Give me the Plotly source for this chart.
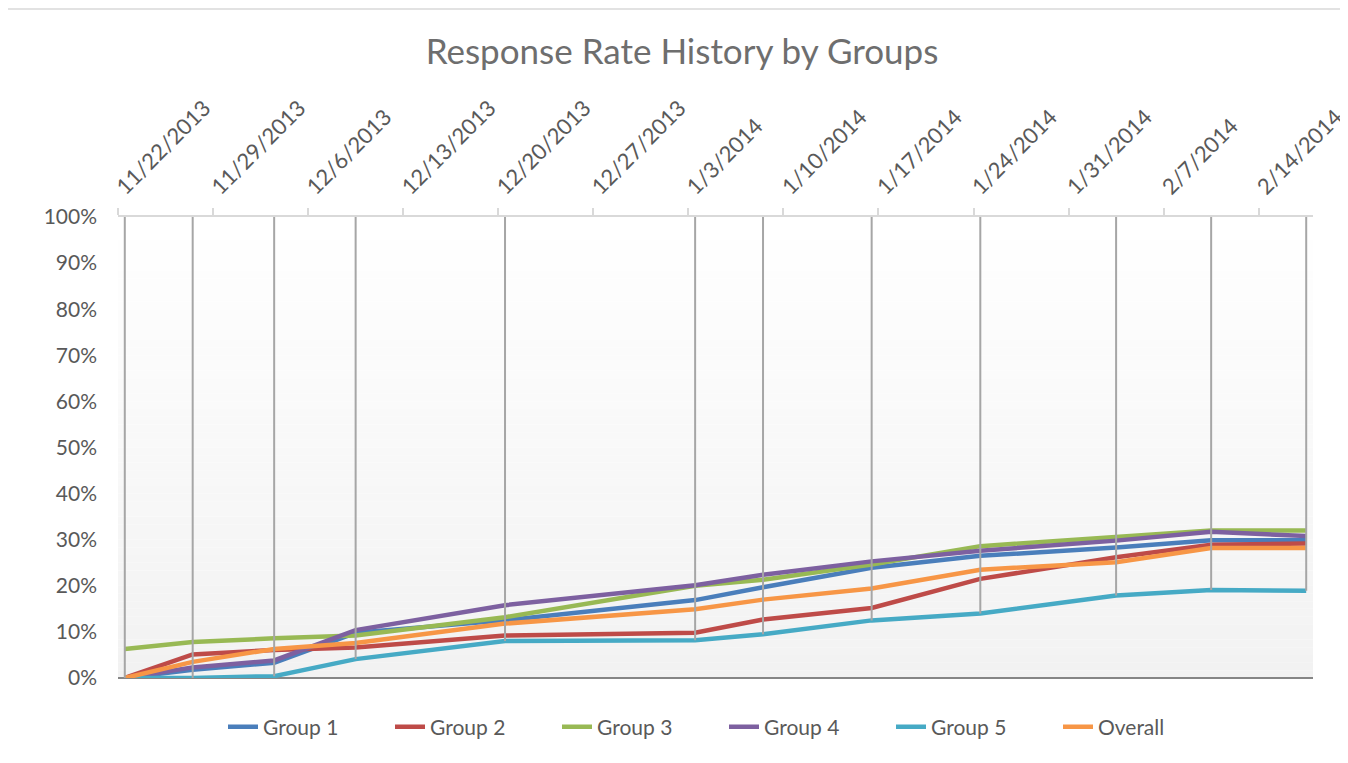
import pandas as pd
import plotly.graph_objects as go

# ---- data ----
dates = ["2013-11-22", "2013-11-27", "2013-12-03", "2013-12-09", "2013-12-20", "2014-01-03",
         "2014-01-08", "2014-01-16", "2014-01-24", "2014-02-03", "2014-02-10", "2014-02-17"]
group1 = [0.0, 1.8, 3.3, 9.8, 12.5, 16.9, 19.7, 23.9, 26.5, 28.3, 29.9, 29.9]
group2 = [0.0, 5.1, 6.1, 6.6, 9.2, 9.8, 12.7, 15.2, 21.5, 26.2, 28.9, 29.2]
group3 = [6.3, 7.8, 8.6, 9.2, 13.2, 20.0, 21.3, 24.6, 28.6, 30.6, 32.0, 32.0]
group4 = [0.0, 2.3, 3.8, 10.4, 15.8, 20.1, 22.4, 25.3, 27.6, 29.8, 31.7, 30.8]
group5 = [0.0, 0.0, 0.4, 4.1, 8.0, 8.2, 9.5, 12.5, 14.0, 17.9, 19.1, 18.9]
overall = [0.0, 3.5, 6.3, 7.6, 11.8, 14.9, 17.0, 19.4, 23.5, 25.1, 28.2, 28.2]

series_names = ["Group 1", "Group 2", "Group 3", "Group 4", "Group 5", "Overall"]
series_values = [group1, group2, group3, group4, group5, overall]
series_colors = ["#4A7EBB", "#BE4B48", "#98B954", "#7D60A0", "#46AAC5", "#F79646"]

tick_labels = ["11/22/2013", "11/29/2013", "12/6/2013", "12/13/2013", "12/20/2013", "12/27/2013",
               "1/3/2014", "1/10/2014", "1/17/2014", "1/24/2014", "1/31/2014", "2/7/2014", "2/14/2014"]

title_text = "Response Rate History by Groups"

# ---- build ----
x_dates = pd.to_datetime(dates)
half_day = pd.Timedelta(hours=12)
tick_pos = pd.to_datetime(tick_labels, format="%m/%d/%Y") - half_day
x_range = [x_dates[0] - half_day, x_dates[-1] + half_day]

FONT = "Lato, Carlito, Calibri, sans-serif"
TXT = "#595959"

fig = go.Figure()

for name, vals, col in zip(series_names, series_values, series_colors):
    fig.add_trace(go.Scatter(
        x=x_dates, y=[v / 100 for v in vals], name=name, mode="lines",
        line=dict(color=col, width=4.5), hoverinfo="x+y+name"))

# drop lines from category axis (top) down to lowest series value
dx, dy = [], []
for i, d in enumerate(x_dates):
    lo = min(s[i] for s in series_values) / 100
    dx += [d, d, None]
    dy += [lo, 1.0, None]
fig.add_trace(go.Scatter(x=dx, y=dy, mode="lines", showlegend=False, hoverinfo="skip",
                         line=dict(color="#A6A6A6", width=2)))

# page body margin (8px) compensation: keep the figure inside the window
OFF = 8
W, H = 1348 - OFF, 763 - OFF
L, T = 118 - OFF, 217 - OFF
R = W - (1313 - OFF)
B = H - (678 - OFF)
pw, ph = W - L - R, H - T - B

def px_x(p):
    return (p - OFF - L) / pw

def px_y(p):
    return (H - B - (p - OFF)) / ph

# gradient plot background
shapes = []
n = 60
for k in range(n):
    t = k / (n - 1)
    c = int(round(255 - (255 - 242) * (1 - t)))
    shapes.append(dict(type="rect", xref="paper", yref="paper", x0=0, x1=1,
                       y0=k / n, y1=(k + 1) / n, fillcolor=f"rgb({c},{c},{c})",
                       line=dict(width=0), layer="below"))
# outer chart border
shapes.append(dict(type="rect", xref="paper", yref="paper",
                   x0=px_x(4), x1=px_x(1345), y0=px_y(775), y1=px_y(9),
                   line=dict(color="#D9D9D9", width=1.5), fillcolor="rgba(0,0,0,0)", layer="below"))

fig.update_layout(
    width=W, height=H, autosize=False,
    margin=dict(l=L, r=R, t=T, b=B, pad=0, autoexpand=False),
    paper_bgcolor="white", plot_bgcolor="rgba(0,0,0,0)",
    font=dict(family=FONT, color=TXT, size=21),
    title=dict(text=title_text, x=(682 - OFF) / W, xanchor="center", y=1 - (52 - OFF) / H,
               yanchor="middle", font=dict(family=FONT, size=35, color="#6E6E6E")),
    shapes=shapes,
    showlegend=True,
    legend=dict(orientation="h", x=px_x(223), xanchor="left", y=px_y(727), yanchor="middle",
                font=dict(size=21, color=TXT), entrywidth=122, bgcolor="rgba(0,0,0,0)",
                traceorder="normal"),
    xaxis=dict(type="date", side="top", range=x_range, tickmode="array", automargin=False,
               tickvals=tick_pos, ticktext=tick_labels, tickangle=-45,
               ticks="outside", ticklen=7, tickcolor="#D9D9D9", tickwidth=1.5,
               showline=True, linecolor="#D9D9D9", linewidth=2, showgrid=False, zeroline=False,
               tickfont=dict(size=22, color=TXT)),
    yaxis=dict(range=[0, 1], dtick=0.1, tick0=0, tickformat=".0%", showgrid=False, automargin=False,
               showline=False, zeroline=True, zerolinecolor="#868686", zerolinewidth=2,
               ticks="", ticklabelstandoff=20, tickfont=dict(size=21, color=TXT)),
)

fig.write_html("out.html")
